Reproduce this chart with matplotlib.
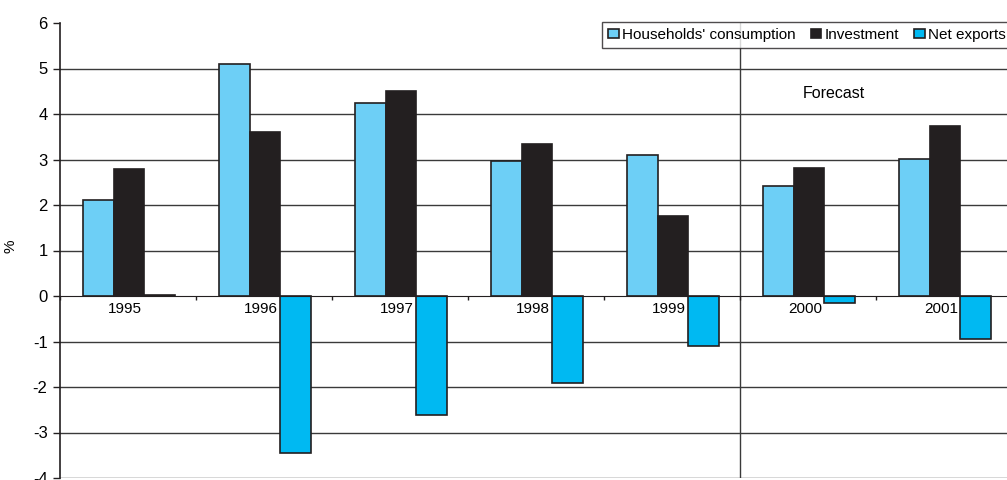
import matplotlib.pyplot as plt
import numpy as np

plt.rcParams['font.family'] = ['Liberation Sans', 'DejaVu Sans']
plt.rcParams['font.size'] = 11
plt.rcParams['axes.unicode_minus'] = False

years = ['1995', '1996', '1997', '1998', '1999', '2000', '2001']
consumption = [2.1, 5.1, 4.25, 2.97, 3.1, 2.42, 3.02]
investment = [2.8, 3.6, 4.5, 3.35, 1.76, 2.82, 3.74]
net_exports = [0.02, -3.44, -2.62, -1.92, -1.1, -0.15, -0.95]
y_ticks = [-4, -3, -2, -1, 0, 1, 2, 3, 4, 5, 6]

edge = '#231f20'
colors = ['#6dcff6', '#231f20', '#00b9f2']
labels = ["Households' consumption", 'Investment', 'Net exports']

fig = plt.figure(figsize=(10.07, 4.8), dpi=100)
ax = fig.add_axes([60 / 1007, 2 / 480, 952 / 1007, 455 / 480])

x = np.arange(len(years)) + 0.507
w = 0.225
for k, (vals, c, lab) in enumerate(zip([consumption, investment, net_exports], colors, labels)):
    ax.bar(x + (k - 1) * w, vals, width=w, color=c, edgecolor=edge,
           linewidth=1.2, label=lab, zorder=3)

# horizontal grid lines
for v in y_ticks:
    if v not in (0, 6):
        ax.axhline(v, color='#3a3a3a', lw=1, zorder=1)

# forecast divider between 1999 and 2000
ax.axvline(5, color='#3a3a3a', lw=1, zorder=1)
ax.text(5.463, 4.45, 'Forecast', ha='left', va='center', fontsize=11.5)

ax.set_xlim(0, 7)
ax.set_ylim(-4, 6)
ax.set_yticks(y_ticks)
ax.set_xticks(np.arange(0, 8))
ax.set_xticklabels([])
ax.tick_params(axis='x', direction='out', length=3, width=1, color=edge)
ax.tick_params(axis='y', direction='out', length=5, width=1, color=edge,
               pad=4, labelsize=12)

for s in ['top', 'right']:
    ax.spines[s].set_visible(False)
ax.spines['bottom'].set_position(('data', 0))
ax.spines['bottom'].set_zorder(4)
ax.spines['bottom'].set_color(edge)
ax.spines['left'].set_color(edge)
ax.spines['left'].set_linewidth(1.2)

for xi, yr in zip(x, years):
    ax.text(xi - 0.03, -0.13, yr, ha='center', va='top', zorder=5)

ax.set_ylabel('%')
ax.yaxis.set_label_coords(-0.045, 0.51)

leg = ax.legend(loc='upper left', bbox_to_anchor=(602 / 1007, 1 - 22 / 480),
                bbox_transform=fig.transFigure, ncol=3, frameon=True,
                fancybox=False, borderaxespad=0, borderpad=0.4,
                handlelength=0.7, handleheight=0.55, handletextpad=0.2,
                columnspacing=1.0)
leg.get_frame().set_edgecolor(edge)
leg.get_frame().set_linewidth(1)

fig.savefig('out.png', dpi=100)
